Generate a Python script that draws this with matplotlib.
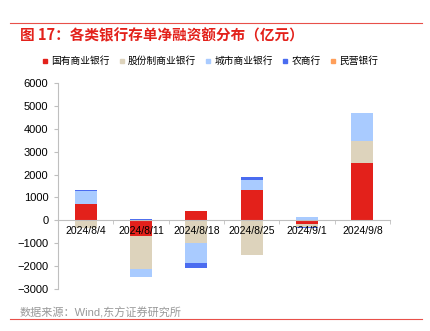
import numpy as np
import matplotlib.pyplot as plt
from matplotlib.lines import Line2D

plt.rcParams['font.family'] = ['Liberation Sans', 'Noto Sans CJK SC']

dates = ['2024/8/4', '2024/8/11', '2024/8/18', '2024/8/25', '2024/9/1', '2024/9/8']
names = ['国有商业银行', '股份制商业银行', '城市商业银行', '农商行', '民营银行']
guoyou = [700, -700, 420, 1310, -180, 2500]
gufen = [-350, -1420, -1000, -1500, -100, 980]
chengshi = [580, -340, -880, 470, 140, 1210]
nongshang = [60, 40, -190, 110, -40, 0]
minying = [0, -30, -30, -20, 0, 0]
colors = ['#E3211B', '#DDD3BC', '#A9CBFF', '#4A6CF0', '#FF9F5A']

series = [guoyou, gufen, chengshi, nongshang, minying]

fig = plt.figure(figsize=(4.31, 3.31), dpi=100)
ax = fig.add_axes([0.1346, 0.127, 0.7704, 0.622])

x = np.arange(len(dates))
pos_base = np.zeros(len(dates))
neg_base = np.zeros(len(dates))
for vals, c in zip(series, colors):
    v = np.array(vals, dtype=float)
    base = np.where(v >= 0, pos_base, neg_base)
    ax.bar(x, v, 0.4, bottom=base, color=c, linewidth=0)
    pos_base = pos_base + np.where(v > 0, v, 0)
    neg_base = neg_base + np.where(v < 0, v, 0)

ax.set_xlim(-0.5, len(dates) - 0.5)
ax.set_ylim(-3000, 6000)
ax.set_yticks(range(-3000, 6001, 1000))
ax.tick_params(axis='y', labelsize=8, length=3, color='#BFBFBF', pad=4)

ax.spines['bottom'].set_position(('data', 0))
ax.spines['bottom'].set_color('#BFBFBF')
ax.spines['left'].set_color('#BFBFBF')
ax.spines['top'].set_visible(False)
ax.spines['right'].set_visible(False)

ax.set_xticks(x)
ax.set_xticklabels(dates, fontsize=7.5)
ax.tick_params(axis='x', length=0, pad=4)
ax.set_xticks(np.arange(0.5, len(dates), 1), minor=True)
ax.tick_params(axis='x', which='minor', length=3, color='#BFBFBF')

handles = [Line2D([], [], marker='s', linestyle='', markersize=3.5, color=c) for c in colors]
fig.legend(handles, names, loc='center', bbox_to_anchor=(0.487, 0.815), ncol=5,
           frameon=False, fontsize=7, handlelength=0.7, handletextpad=0.3, columnspacing=0.9)

fig.text(0.046, 0.893, '图 17：各类银行存单净融资额分布（亿元）', color='#E3211B',
         fontsize=10.5, fontweight='bold', va='center', family=['Noto Sans CJK SC'])
fig.text(0.046, 0.056, '数据来源：Wind,东方证券研究所', color='#999999', fontsize=8, va='center')

fig.add_artist(Line2D([0.023, 0.979], [0.93, 0.93], color='#E8504A', linewidth=0.8))
fig.add_artist(Line2D([0.023, 0.979], [0.036, 0.036], color='#E8504A', linewidth=0.8))

fig.savefig('out.png', dpi=100)
